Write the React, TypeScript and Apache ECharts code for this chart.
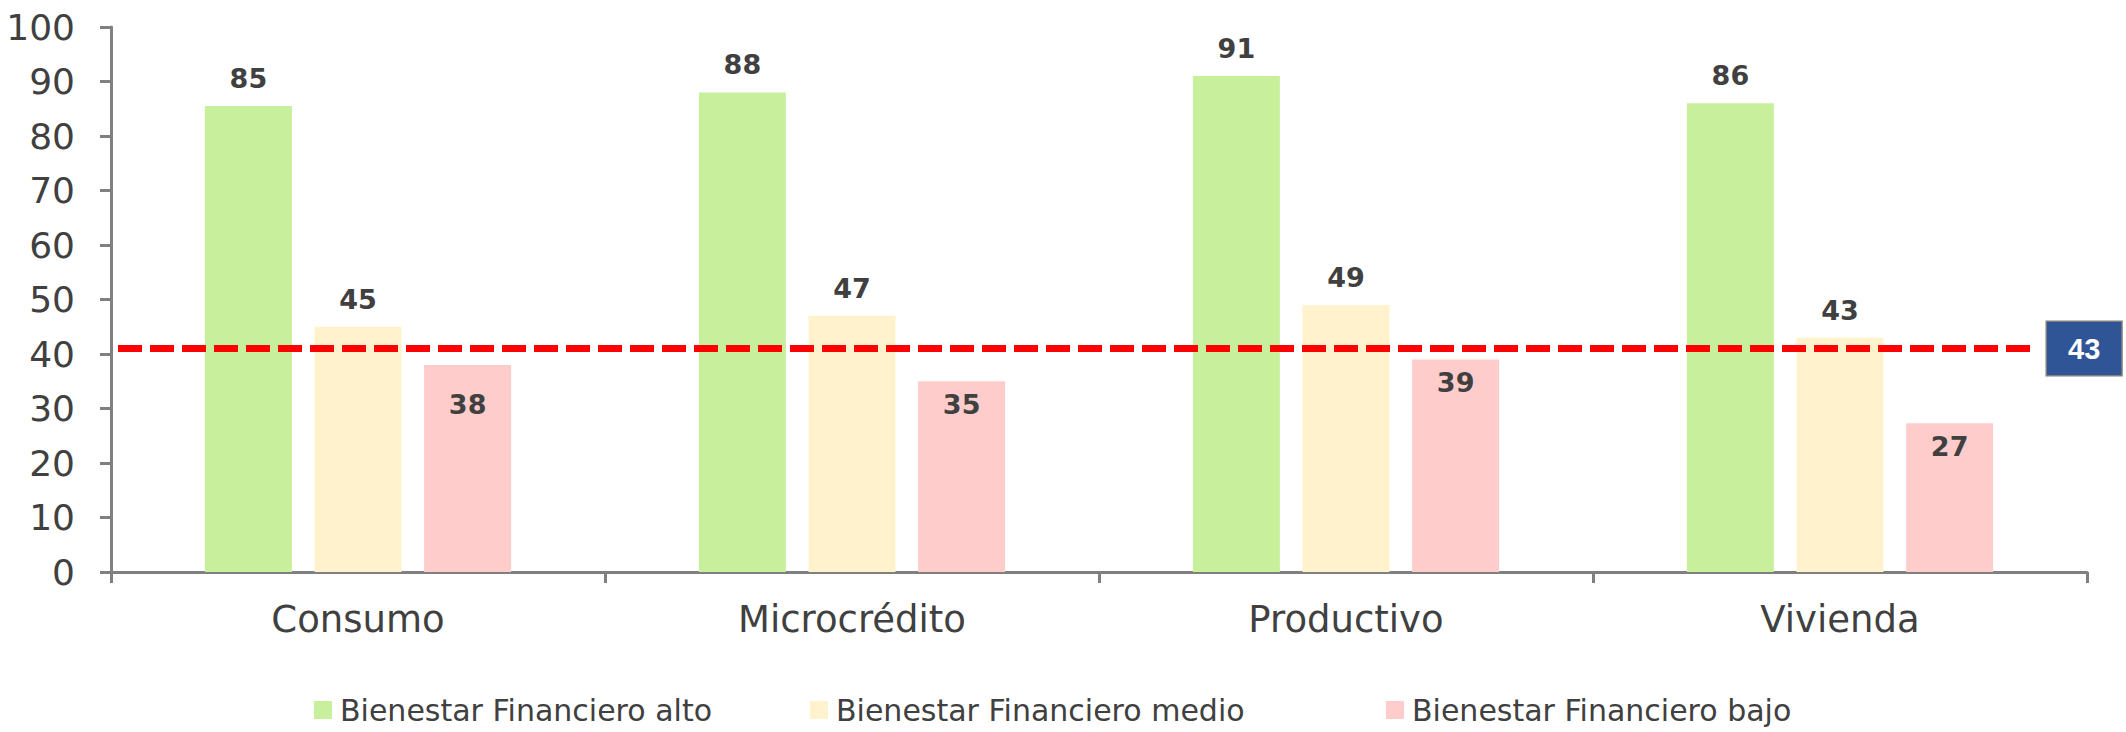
import React, { useEffect, useRef } from "react";
import * as echarts from "echarts";

const categories = ["Consumo", "Microcrédito", "Productivo", "Vivienda"];
const seriesNames = [
  "Bienestar Financiero alto",
  "Bienestar Financiero medio",
  "Bienestar Financiero bajo",
];
const altoValues = [85.5, 88, 91, 86];
const medioValues = [45, 47, 49, 43];
const bajoValues = [38, 35, 39, 27.3];
const altoLabels = ["85", "88", "91", "86"];
const medioLabels = ["45", "47", "49", "43"];
const bajoLabels = ["38", "35", "39", "27"];
const referenceLineValue = 41;
const referenceLabel = "43";
const yTicks = [0, 10, 20, 30, 40, 50, 60, 70, 80, 90, 100];

const colors = ["#C8EF9B", "#FFF2CC", "#FFCCCC"];
const FONT = "'DejaVu Sans', sans-serif";
const TEXT = "#404040";

export default function App() {
  const ref = useRef<HTMLDivElement>(null);
  useEffect(() => {
    document.body.style.margin = "0";
    if (!ref.current) return;
    const chart = echarts.init(ref.current, undefined, { renderer: "svg" });

    const W = 2126;
    const gridLeft = 111;
    const gridRight = 39;
    const gridW = W - gridLeft - gridRight;
    const lineStartFrac = (118 - gridLeft) / gridW;
    const lineEndFrac = (2030 - gridLeft) / gridW;

    const labelFmt = (arr: string[]) => (p: any) => arr[p.dataIndex];

    const barLabelTop = (arr: string[]) => ({
      show: true,
      position: "top",
      distance: 14,
      formatter: labelFmt(arr),
      color: TEXT,
      fontFamily: FONT,
      fontWeight: "bold",
      fontSize: 27,
    });

    const legendCommon = {
      top: 695,
      padding: 0,
      itemWidth: 18,
      itemHeight: 18,
      icon: "rect",
      textStyle: {
        fontFamily: FONT,
        fontSize: 30,
        lineHeight: 30,
        color: TEXT,
        padding: [0, 0, 0, 3],
      },
    };

    chart.setOption({
      animation: false,
      backgroundColor: "#ffffff",
      grid: { left: gridLeft, right: gridRight, top: 27, bottom: 160, containLabel: false },
      legend: [
        { ...legendCommon, left: 314, data: [seriesNames[0]] },
        { ...legendCommon, left: 810, data: [seriesNames[1]] },
        { ...legendCommon, left: 1386, data: [seriesNames[2]] },
      ],
      xAxis: [
        {
          type: "category",
          data: categories,
          axisLine: { show: true, lineStyle: { color: "#808080", width: 3 } },
          axisTick: { show: true, length: 11, lineStyle: { color: "#808080", width: 3 } },
          axisLabel: {
            margin: 29,
            fontFamily: FONT,
            fontSize: 37,
            color: TEXT,
          },
          splitLine: { show: false },
        },
        {
          type: "value",
          min: 0,
          max: 1,
          show: false,
          position: "bottom",
        },
      ],
      yAxis: {
        type: "value",
        min: 0,
        max: yTicks[yTicks.length - 1],
        interval: yTicks[1] - yTicks[0],
        axisLine: { show: true, lineStyle: { color: "#808080", width: 3 } },
        axisTick: { show: true, length: 11, lineStyle: { color: "#808080", width: 3 } },
        axisLabel: {
          margin: 36,
          fontFamily: FONT,
          fontSize: 36,
          color: TEXT,
        },
        splitLine: { show: false },
      },
      series: [
        {
          name: seriesNames[0],
          type: "bar",
          data: altoValues,
          barWidth: 87,
          barGap: "26%",
          itemStyle: { color: colors[0] },
          label: barLabelTop(altoLabels),
        },
        {
          name: seriesNames[1],
          type: "bar",
          data: medioValues,
          barWidth: 87,
          barGap: "26%",
          itemStyle: { color: colors[1] },
          label: barLabelTop(medioLabels),
        },
        {
          name: seriesNames[2],
          type: "bar",
          data: bajoValues.map((v, i) =>
            i === 0 ? { value: v, label: { distance: 26 } } : v
          ),
          barWidth: 87,
          barGap: "26%",
          itemStyle: { color: colors[2] },
          label: {
            ...barLabelTop(bajoLabels),
            position: "insideTop",
            distance: 10,
          },
        },
        {
          name: "ref",
          type: "line",
          xAxisIndex: 1,
          data: [
            [lineStartFrac, referenceLineValue],
            [lineEndFrac, referenceLineValue],
          ],
          symbol: "none",
          silent: true,
          z: 5,
          lineStyle: { color: "#FF0000", width: 7, type: [24, 8] },
          endLabel: {
            show: true,
            formatter: referenceLabel,
            distance: 17,
            color: "#ffffff",
            fontFamily: "'Liberation Sans', Arial, sans-serif",
            fontWeight: "bold",
            fontSize: 29,
            lineHeight: 29,
            backgroundColor: "#2F5597",
            borderColor: "#7F7F7F",
            borderWidth: 1.5,
            padding: [12, 21, 12, 21],
          },
        },
      ],
    });
    return () => chart.dispose();
  }, []);
  return <div ref={ref} style={{ width: 2126, height: 732 }} />;
}
